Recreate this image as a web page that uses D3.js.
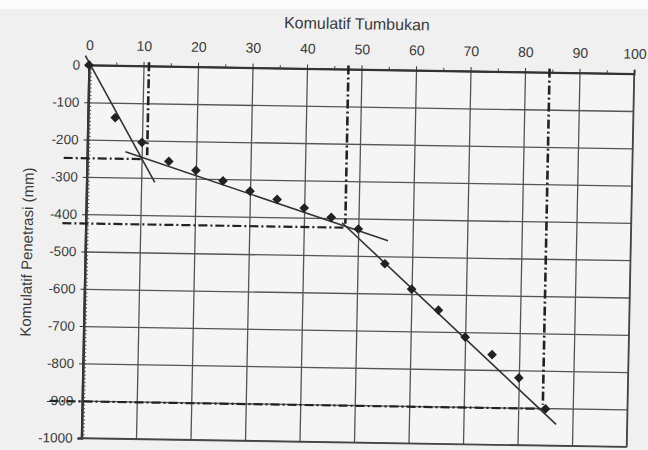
<!DOCTYPE html>
<html>
<head>
<meta charset="utf-8">
<script src="https://cdn.jsdelivr.net/npm/d3@7"></script>
<style>
	body { margin: 0; background: #ffffff; }
	svg text { font-family: "Liberation Sans", Arial, sans-serif; fill: #3a3a3a; }
</style>
</head>
<body>
<div id="chart"></div>
<script>

//Data
var blows = [0, 5, 10, 15, 20, 25, 30, 35, 40, 45, 50, 55, 60, 65, 70, 75, 80, 85];
var penetration = [0, -140, -205, -255, -278, -305, -331, -352, -374, -398, -428, -520, -587, -642, -713, -759, -820, -902];

//Fitted lines, start and end of each segment
var trendX = [[-0.7, 12.5], [7, 55.5], [47, 87]];
var trendY = [[25, -312], [-231, -458], [-412, -943]];

//Dash-dot guides: where each segment meets the next
var breakX = [11, 47.6, 84.5];
var breakY = [-250, -425, -902];
var guideStart = [-4.3, -4.3, -6];

var xTicks = [0, 10, 20, 30, 40, 50, 60, 70, 80, 90, 100];
var yTicks = [0, -100, -200, -300, -400, -500, -600, -700, -800, -900, -1000];

///////////////////////////////////////////////////////////////////////////
//////////////////// Set up and initiate svg container ////////////////////
///////////////////////////////////////////////////////////////////////////

var width = 545;
var height = 373;

var svg0 = d3.select("#chart").append("svg")
	.attr("width", 648)
	.attr("height", 450);

//Scanned paper background
svg0.append("rect")
	.attr("x", 0).attr("y", 0)
	.attr("width", 648).attr("height", 450)
	.style("fill", "#f0f0f0");
svg0.append("rect")
	.attr("x", 0).attr("y", 0)
	.attr("width", 648).attr("height", 9)
	.style("fill", "#fbfbfb");

//the photographed page is a little skewed: slant both ways
var svg = svg0.append("g")
	.attr("transform", "matrix(1,0.016,-0.0201,1,89,65)");

var x = d3.scaleLinear().domain([0, 100]).range([0, width]);
var y = d3.scaleLinear().domain([0, -1000]).range([0, height]);

svg.append("rect")
	.attr("width", width).attr("height", height)
	.style("fill", "#f5f5f5");

///////////////////////////////////////////////////////////////////////////
//////////////////////////////// Grid /////////////////////////////////////
///////////////////////////////////////////////////////////////////////////

svg.append("g")
	.call(d3.axisTop(x).tickValues(xTicks).tickSize(-height).tickFormat(""))
	.call(function(g) { g.select(".domain").remove(); })
	.selectAll("line").style("stroke", "#555").style("stroke-width", 1.3);

svg.append("g")
	.call(d3.axisLeft(y).tickValues(yTicks).tickSize(-width).tickFormat(""))
	.call(function(g) { g.select(".domain").remove(); })
	.selectAll("line").style("stroke", "#555").style("stroke-width", 1.3);

//Frame
svg.append("rect")
	.attr("width", width).attr("height", height)
	.style("fill", "none")
	.style("stroke", "#444")
	.style("stroke-width", 1.4);

///////////////////////////////////////////////////////////////////////////
//////////////////////////////// Axes /////////////////////////////////////
///////////////////////////////////////////////////////////////////////////

var xAxis = svg.append("g")
	.call(d3.axisTop(x).tickValues(xTicks).tickSize(4).tickPadding(11));
xAxis.select(".domain").style("stroke", "#333").style("stroke-width", 2);
xAxis.selectAll("line").style("stroke", "#333");
xAxis.selectAll("text").style("font-size", "14px").style("fill", "#3a3a3a");

//minor ticks on top
svg.append("g")
	.call(d3.axisTop(x).tickValues(d3.range(5, 100, 10)).tickSize(3).tickFormat(""))
	.call(function(g) { g.select(".domain").remove(); })
	.selectAll("line").style("stroke", "#444");

var yAxis = svg.append("g")
	.call(d3.axisLeft(y).tickValues(yTicks).tickSize(4).tickPadding(5)
		.tickFormat(function(d) { return String(d); }));
yAxis.select(".domain").style("stroke", "#333").style("stroke-width", 2.5);
yAxis.selectAll("line").style("stroke", "#333");
yAxis.selectAll("text").style("font-size", "13.5px").style("fill", "#3a3a3a");

//dense minor ticks along the left axis
svg.append("g")
	.call(d3.axisRight(y).tickValues(d3.range(0, -1001, -10)).tickSize(3).tickFormat(""))
	.call(function(g) { g.select(".domain").remove(); })
	.selectAll("line").style("stroke", "#444");

svg.append("text")
	.attr("x", 267)
	.attr("y", -40)
	.attr("text-anchor", "middle")
	.style("font-size", "16px")
	.text("Komulatif Tumbukan");

svg.append("text")
	.attr("transform", "translate(-53,188) rotate(-90)")
	.attr("text-anchor", "middle")
	.style("font-size", "15px")
	.text("Komulatif Penetrasi (mm)");

///////////////////////////////////////////////////////////////////////////
///////////////////////// Dash-dot guide lines ////////////////////////////
///////////////////////////////////////////////////////////////////////////

var dashDot = "9,3,2,3";

svg.selectAll(".guideV")
	.data(breakX)
	.enter().append("line")
	.attr("class", "guideV")
	.attr("x1", function(d) { return x(d); })
	.attr("x2", function(d) { return x(d); })
	.attr("y1", y(10))
	.attr("y2", function(d, i) { return y(breakY[i]) - 4; })
	.style("stroke", "#222")
	.style("stroke-width", 2.6)
	.style("stroke-dasharray", dashDot);

svg.selectAll(".guideH")
	.data(breakY)
	.enter().append("line")
	.attr("class", "guideH")
	.attr("x1", function(d, i) { return x(guideStart[i]); })
	.attr("x2", function(d, i) { return x(breakX[i]) - (i === 0 ? 5 : 0); })
	.attr("y1", function(d) { return y(d); })
	.attr("y2", function(d) { return y(d); })
	.style("stroke", "#222")
	.style("stroke-width", 2.2)
	.style("stroke-dasharray", dashDot);

///////////////////////////////////////////////////////////////////////////
///////////////////////// Trend lines and points //////////////////////////
///////////////////////////////////////////////////////////////////////////

svg.selectAll(".trend")
	.data(trendX)
	.enter().append("line")
	.attr("class", "trend")
	.attr("x1", function(d) { return x(d[0]); })
	.attr("x2", function(d) { return x(d[1]); })
	.attr("y1", function(d, i) { return y(trendY[i][0]); })
	.attr("y2", function(d, i) { return y(trendY[i][1]); })
	.style("stroke", "#333")
	.style("stroke-width", 1.6);

svg.selectAll(".point")
	.data(blows)
	.enter().append("path")
	.attr("class", "point")
	.attr("d", d3.symbol().type(d3.symbolDiamond2).size(60))
	.attr("transform", function(d, i) { return "translate(" + x(d) + "," + y(penetration[i]) + ")"; })
	.style("fill", "#222");

</script>
</body>
</html>
